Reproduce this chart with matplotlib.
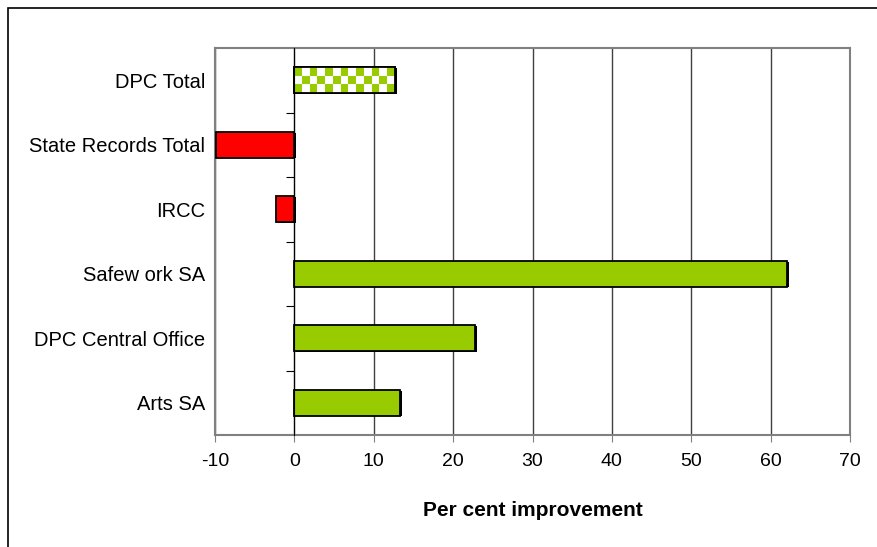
import numpy as np
import matplotlib
matplotlib.use("Agg")
import matplotlib.pyplot as plt
from matplotlib.patches import Rectangle
from matplotlib import patheffects

plt.rcParams['font.family'] = ['Liberation Sans', 'DejaVu Sans']

# data (bottom to top)
agencies = ['Arts SA', 'DPC Central Office', 'Safew ork SA', 'IRCC',
            'State Records Total', 'DPC Total']
improvement = [13.3, 22.8, 62.0, -2.3, -9.9, 12.7]
bar_colors = ['#99CC00', '#99CC00', '#99CC00', '#FF0000', '#FF0000', 'checker']
x_ticks = [-10, 0, 10, 20, 30, 40, 50, 60, 70]

fig = plt.figure(figsize=(8.77, 5.47), dpi=100)
ax = fig.add_axes([215/877, 1 - 435/547, 635/877, 387/547])

# outer chart border (runs off the right and bottom)
fig.patches.append(Rectangle((8/877, -0.1), 1.2, 1.1 - 8/547, transform=fig.transFigure,
                             fill=False, edgecolor='black', linewidth=1.2))

ypos = np.arange(len(agencies))
shadow = [patheffects.SimplePatchShadow(offset=(1.5, -0.5), shadow_rgbFace='black', alpha=1),
          patheffects.Normal()]

for y, v, c in zip(ypos, improvement, bar_colors):
    face = 'white' if c == 'checker' else c
    bar = ax.barh(y, v, height=0.4, color=face, edgecolor='black', linewidth=1.3, zorder=3)[0]
    bar.set_path_effects(shadow)
    if c == 'checker':
        board = (np.indices((3, 13)).sum(axis=0) % 2).astype(float)
        img = ax.imshow(board, cmap=matplotlib.colors.ListedColormap(['#99CC00', 'white']),
                        extent=[0, v, y - 0.2, y + 0.2], aspect='auto',
                        interpolation='nearest', zorder=3.5)
        img.set_clip_path(bar)
        ax.barh(y, v, height=0.4, color='none', edgecolor='black', linewidth=1.3, zorder=4)

ax.set_xlim(-10, 70)
ax.set_ylim(-0.5, len(agencies) - 0.5)
ax.set_xticks(x_ticks)
ax.set_xticklabels([str(t) for t in x_ticks], fontsize=14)
ax.set_yticks(ypos)
ax.set_yticklabels(agencies, fontsize=14.5)
ax.tick_params(axis='y', length=0, pad=7)
ax.tick_params(axis='x', length=5, color='#808080', pad=8)
ax.xaxis.grid(True, color='#404040', linewidth=1)
ax.set_axisbelow(True)
for s in ax.spines.values():
    s.set_color('#808080')
    s.set_linewidth(1.5)

# zero axis with category tick marks
ax2 = ax.twinx()
ax2.set_ylim(ax.get_ylim())
ax2.spines['left'].set_position(('data', 0))
ax2.spines['left'].set_color('black')
ax2.spines['left'].set_zorder(5)
for k in ['right', 'top', 'bottom']:
    ax2.spines[k].set_visible(False)
ax2.yaxis.set_ticks_position('left')
ax2.set_yticks(ypos[:-1] + 0.5)
ax2.set_yticklabels([])
ax2.tick_params(axis='y', length=6, direction='out', color='black')

xl = ax.set_xlabel('Per cent improvement', fontsize=15, fontweight='bold', labelpad=22)

fig.savefig('out.png', dpi=100)
